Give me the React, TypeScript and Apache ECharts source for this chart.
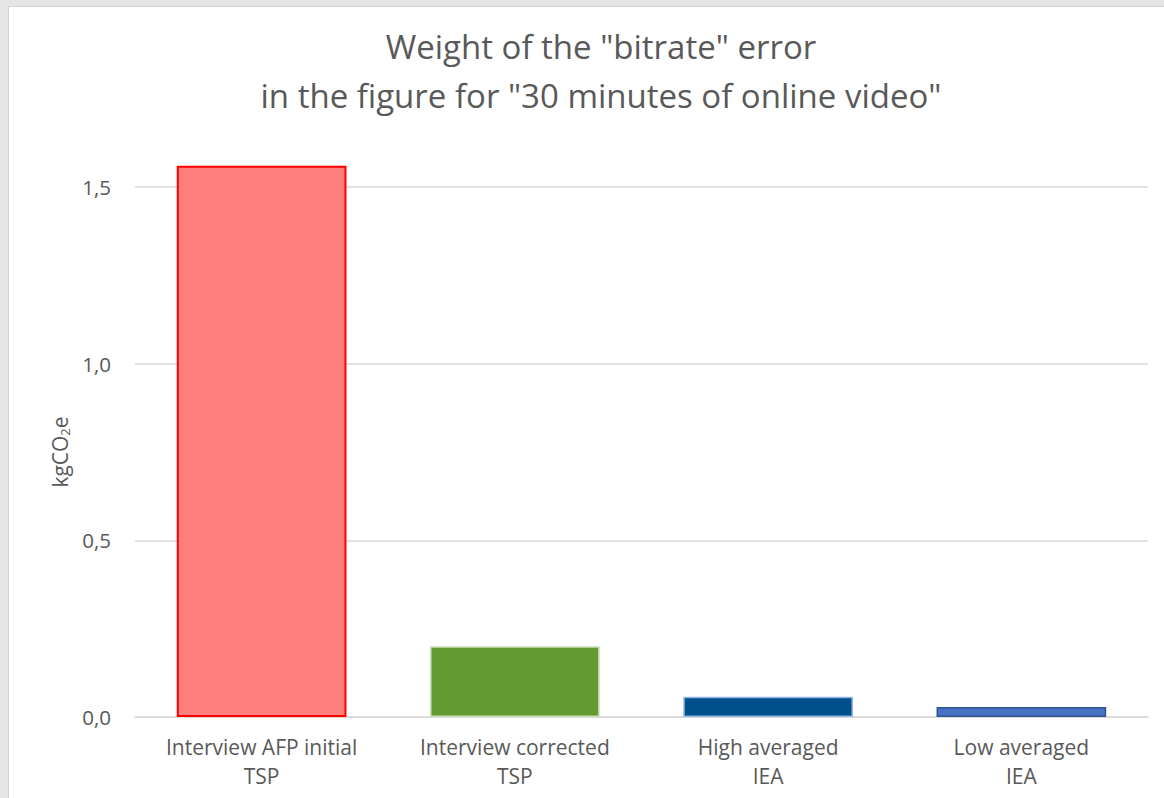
import React, { useEffect, useRef } from "react";
import * as echarts from "echarts";

const categories = ["Interview AFP initial\nTSP", "Interview corrected\nTSP", "High averaged\nIEA", "Low averaged\nIEA"];
const values = [1.56, 0.2, 0.057, 0.028];
const fillColors = ["#ff7f7f", "#659a33", "#00508c", "#4472c4"];
const borderColors = ["#ff0000", "#c9dfb8", "#8fb4e3", "#2f5597"];
const yTicks = { min: 0, max: 1.5, interval: 0.5 };
const titleLines = ['Weight of the "bitrate" error', 'in the figure for "30 minutes of online video"'];

export default function App() {
  const ref = useRef<HTMLDivElement>(null);
  useEffect(() => {
    if (!ref.current) return;
    const chart = echarts.init(ref.current, null, { renderer: "svg" });
    const font = "'Open Sans', 'Liberation Sans', sans-serif";
    chart.setOption({
      animation: false,
      textStyle: { fontFamily: font },
      title: {
        text: titleLines.join("\n"),
        left: 587,
        top: 10,
        textAlign: "center",
        textStyle: { fontFamily: font, fontSize: 33, fontWeight: "normal", color: "#595959", lineHeight: 49 },
      },
      grid: { left: 126, right: 16, top: 180, bottom: 81 },
      xAxis: {
        type: "category",
        data: categories,
        axisLine: { show: true, lineStyle: { color: "#d9d9d9", width: 1.5 } },
        axisTick: { show: false },
        axisLabel: { color: "#595959", fontSize: 21, fontFamily: font, lineHeight: 29, margin: 15, interval: 0 },
      },
      yAxis: {
        type: "value",
        min: yTicks.min,
        max: yTicks.max,
        interval: yTicks.interval,
        name: "{a|kgCO}{b|2}{a|e}",
        nameLocation: "middle",
        nameGap: 63,
        nameRotate: 90,
        nameTextStyle: {
          rich: {
            a: { fontSize: 21, color: "#595959", fontFamily: font },
            b: { fontSize: 13, color: "#595959", fontFamily: font, padding: [10, 0, 0, 0] },
          },
        },
        axisLine: { show: false },
        axisTick: { show: false },
        splitLine: { lineStyle: { color: "#d9d9d9", width: 1.5 } },
        axisLabel: {
          color: "#595959",
          fontSize: 20.5,
          fontFamily: font,
          margin: 24,
          formatter: (v: number) => v.toFixed(1).replace(".", ","),
        },
      },
      series: [
        {
          type: "bar",
          clip: false,
          barWidth: "67%",
          data: values.map((v, i) => ({
            value: v,
            itemStyle: { color: fillColors[i], borderColor: borderColors[i], borderWidth: i === 0 ? 2 : 1.5 },
          })),
        },
      ],
    });
    return () => chart.dispose();
  }, []);
  return (
    <div style={{ position: "fixed", left: 0, top: 0, width: 1164, height: 798, background: "#e4e5e6" }}>
      <div
        style={{
          position: "absolute",
          left: 8,
          top: 6,
          width: 1156,
          height: 792,
          background: "#ffffff",
          borderLeft: "1px solid #d4d4d4",
          borderTop: "1px solid #d4d4d4",
          boxSizing: "border-box",
        }}
      >
        <div ref={ref} style={{ width: 1155, height: 791 }} />
      </div>
    </div>
  );
}
